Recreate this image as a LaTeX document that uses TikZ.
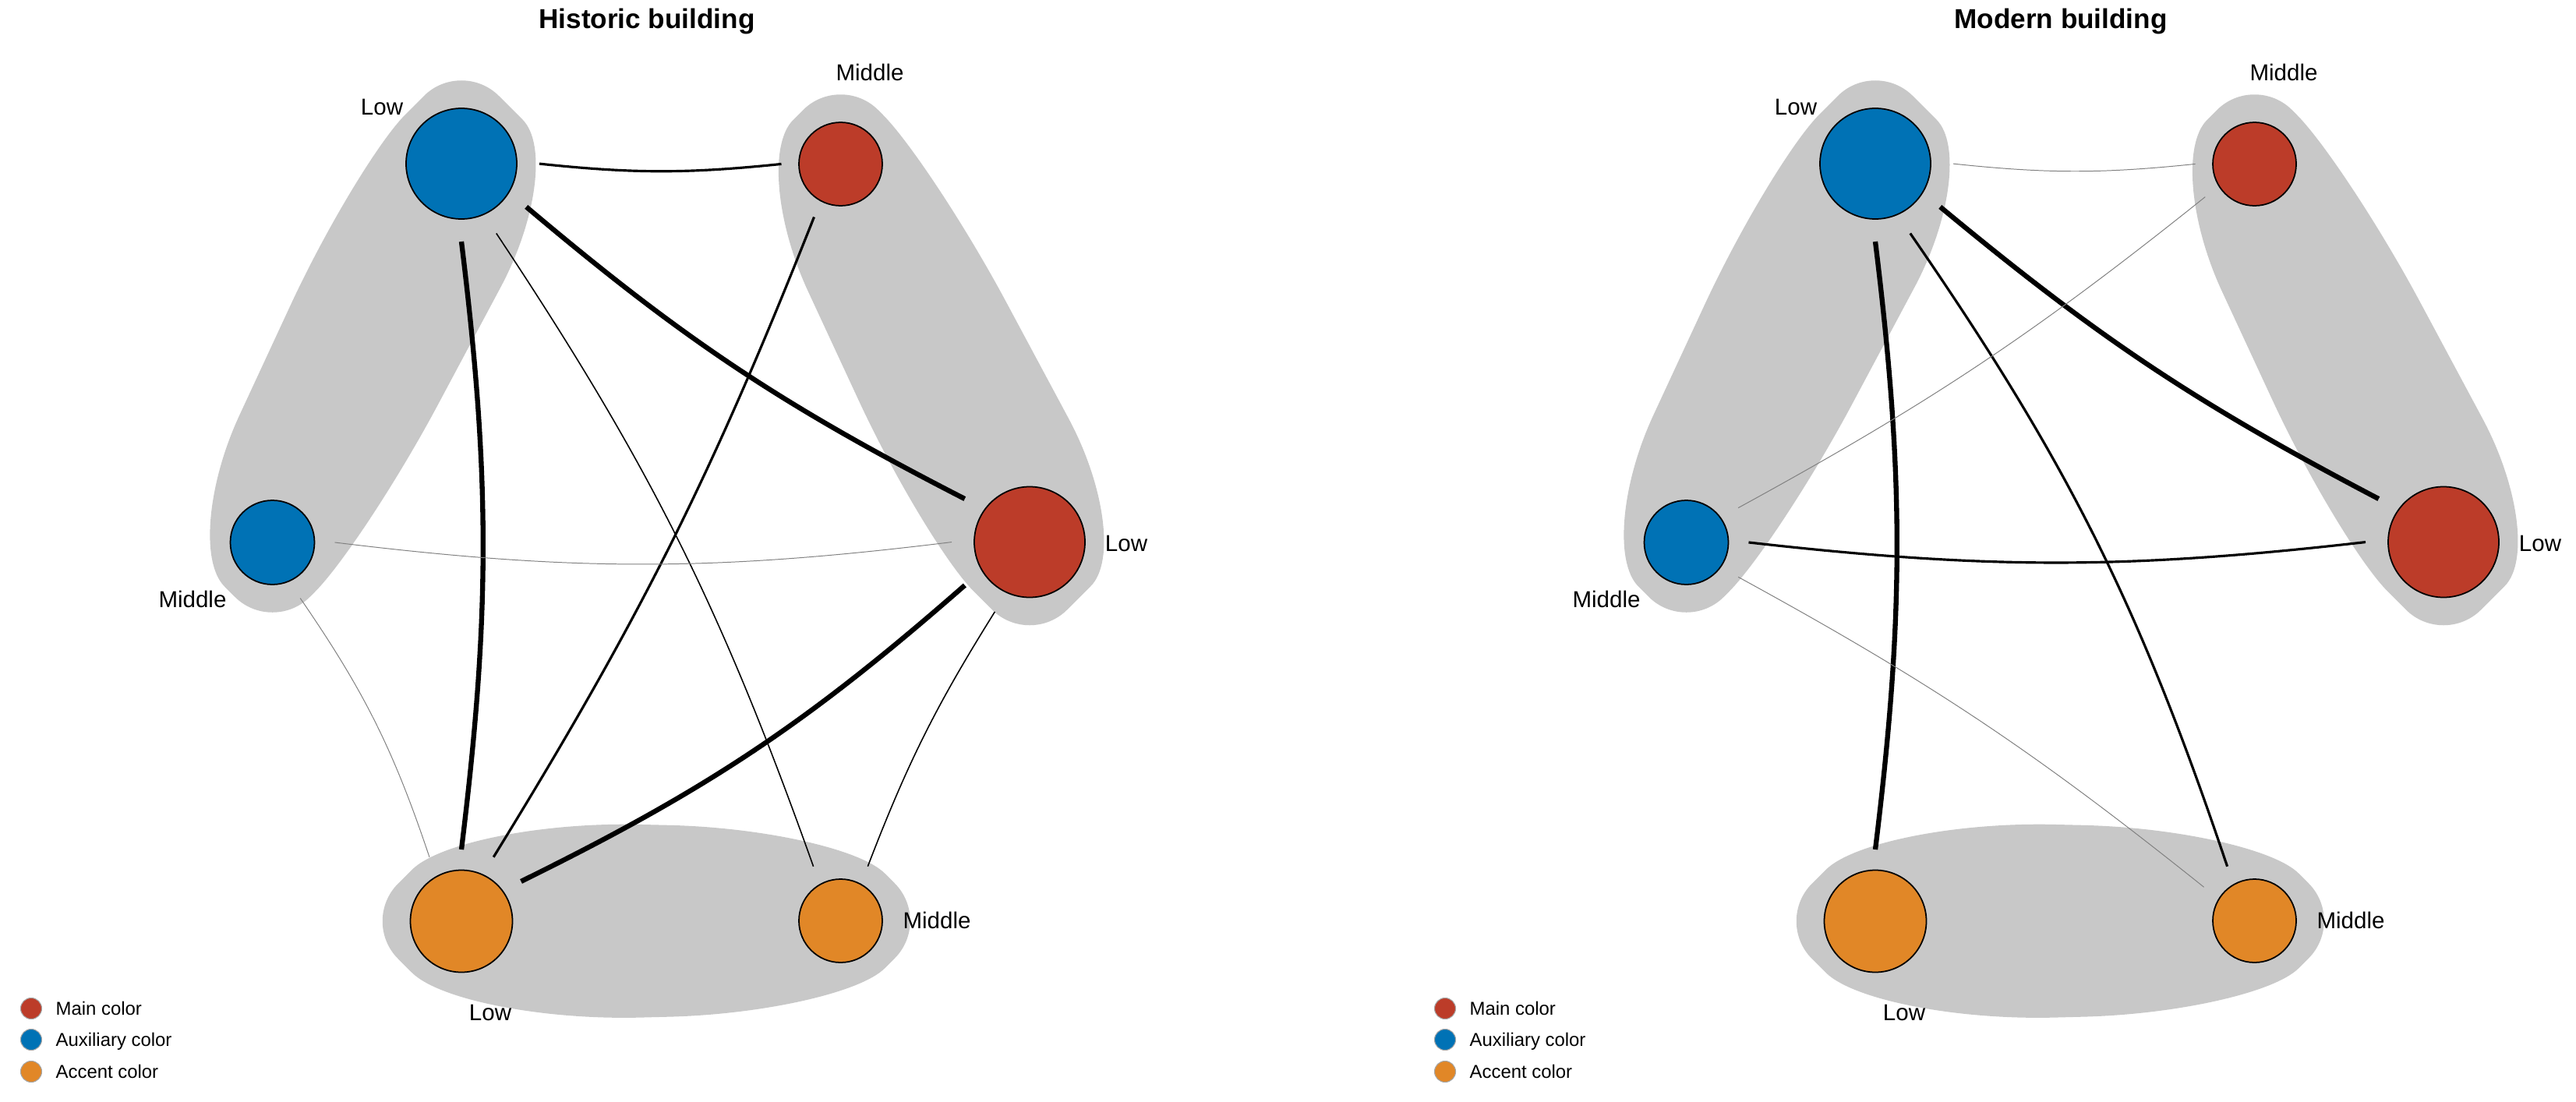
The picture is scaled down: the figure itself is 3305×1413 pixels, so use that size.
\documentclass[tikz,border=0pt]{standalone}
\usepackage{fontspec}
\setmainfont{Liberation Sans}
\usetikzlibrary{calc}
\definecolor{mainc}{HTML}{BC3C29}
\definecolor{auxc}{HTML}{0072B5}
\definecolor{accc}{HTML}{E18727}
\definecolor{hullc}{HTML}{C8C8C8}

% one rounded hull corner: corner, previous, next, cut/control toward previous, cut/control toward next
\newcommand\hcc[7]{-- ($(#1)!#4!(#2)$) .. controls ($(#1)!#5!(#2)$) and ($(#1)!#7!(#3)$) .. ($(#1)!#6!(#3)$)}

\tikzset{
  vtx/.style={circle, draw=black, line width=0.5pt, inner sep=0pt},
  lbl/.style={font=\fontsize{8.4}{10}\selectfont, inner sep=0pt},
  ttl/.style={font=\bfseries\fontsize{10}{12}\selectfont, inner sep=0pt, anchor=base},
  legtxt/.style={font=\fontsize{6.8}{8}\selectfont, anchor=base west, inner sep=0pt},
  legdot/.style={circle, draw=black!35, line width=0.3pt, inner sep=0pt, minimum size=2.7mm},
  thickE/.style={line width=1.8pt, black},
  medE/.style={line width=0.9pt, black},
  thinE/.style={line width=0.45pt, black},
  faintE/.style={line width=0.28pt, black!50},
}

\newcommand\commonpanel[3]{%
\begin{scope}[shift={(#2,0)}]
  \node[ttl] (#1title) at (830,37) {#3};
  % hull corner points
  \coordinate (#1B1) at (592,75);     \coordinate (#1B2) at (727,210);
  \coordinate (#1B3) at (467.5,696);  \coordinate (#1B4) at (349.5,814);
  \coordinate (#1B5) at (231.5,696);  \coordinate (#1B6) at (457,210);
  \coordinate (#1R1) at (1078.5,93);  \coordinate (#1R2) at (1196,210.5);
  \coordinate (#1R3) at (1456,695.5); \coordinate (#1R4) at (1321,830.5);
  \coordinate (#1R5) at (1186,695.5); \coordinate (#1R6) at (961,210.5);
  \coordinate (#1O1) at (462.5,1182); \coordinate (#1O2) at (592,1052.5);
  \coordinate (#1O3) at (1078.5,1064); \coordinate (#1O4) at (1196,1181.5);
  \coordinate (#1O5) at (1078.5,1299); \coordinate (#1O6) at (592,1311.5);
  % hulls
  \fill[hullc] ($(#1B1)!6.8mm!(#1B6)$) .. controls ($(#1B1)!3.06mm!(#1B6)$) and ($(#1B1)!3.06mm!(#1B2)$) .. ($(#1B1)!6.8mm!(#1B2)$)
    \hcc{#1B2}{#1B1}{#1B3}{8mm}{3.6mm}{18mm}{8.1mm}
    \hcc{#1B3}{#1B2}{#1B4}{20mm}{9mm}{9mm}{4.05mm}
    \hcc{#1B4}{#1B3}{#1B5}{6.8mm}{3.06mm}{6.8mm}{3.06mm}
    \hcc{#1B5}{#1B4}{#1B6}{8mm}{3.6mm}{18mm}{8.1mm}
    \hcc{#1B6}{#1B5}{#1B1}{20mm}{9mm}{9mm}{4.05mm} -- cycle;
  \fill[hullc] ($(#1R1)!6.8mm!(#1R6)$) .. controls ($(#1R1)!3.06mm!(#1R6)$) and ($(#1R1)!3.06mm!(#1R2)$) .. ($(#1R1)!6.8mm!(#1R2)$)
    \hcc{#1R2}{#1R1}{#1R3}{9mm}{4.05mm}{20mm}{9mm}
    \hcc{#1R3}{#1R2}{#1R4}{18mm}{8.1mm}{8mm}{3.6mm}
    \hcc{#1R4}{#1R3}{#1R5}{6.8mm}{3.06mm}{6.8mm}{3.06mm}
    \hcc{#1R5}{#1R4}{#1R6}{9mm}{4.05mm}{20mm}{9mm}
    \hcc{#1R6}{#1R5}{#1R1}{18mm}{8.1mm}{8mm}{3.6mm} -- cycle;
  \fill[hullc] ($(#1O1)!6.8mm!(#1O6)$) .. controls ($(#1O1)!3.06mm!(#1O6)$) and ($(#1O1)!3.06mm!(#1O2)$) .. ($(#1O1)!6.8mm!(#1O2)$)
    \hcc{#1O2}{#1O1}{#1O3}{9mm}{4.05mm}{23mm}{10.35mm}
    \hcc{#1O3}{#1O2}{#1O4}{22mm}{9.9mm}{8mm}{3.6mm}
    \hcc{#1O4}{#1O3}{#1O5}{6.8mm}{3.06mm}{6.8mm}{3.06mm}
    \hcc{#1O5}{#1O4}{#1O6}{8mm}{3.6mm}{22mm}{9.9mm}
    \hcc{#1O6}{#1O5}{#1O1}{23mm}{10.35mm}{9mm}{4.05mm} -- cycle;
  % vertices
  \node[vtx, fill=auxc,  minimum size=14.2mm] (#1BL) at (592,210) {};
  \node[vtx, fill=mainc, minimum size=10.7mm] (#1RM) at (1078.5,210.5) {};
  \node[vtx, fill=auxc,  minimum size=10.8mm] (#1BM) at (349.5,696) {};
  \node[vtx, fill=mainc, minimum size=14.2mm] (#1RL) at (1321,695.5) {};
  \node[vtx, fill=accc,  minimum size=13.1mm] (#1OL) at (592,1182) {};
  \node[vtx, fill=accc,  minimum size=10.7mm] (#1OM) at (1078.5,1181.5) {};
  % vertex labels
  \node[lbl] (#1lBL) at (490,137) {Low};
  \node[lbl] (#1lRM) at (1116,93) {Middle};
  \node[lbl] (#1lBM) at (247,769) {Middle};
  \node[lbl] (#1lRL) at (1445,697) {Low};
  \node[lbl] (#1lOL) at (629,1299) {Low};
  \node[lbl] (#1lOM) at (1202,1181) {Middle};
  % legend
  \node[legdot, fill=mainc] (#1d1) at (40,1294) {};
  \node[legdot, fill=auxc]  (#1d2) at (40,1334) {};
  \node[legdot, fill=accc]  (#1d3) at (40,1375) {};
  \node[legtxt] (#1t1) at (71,1302) {Main color};
  \node[legtxt] (#1t2) at (71,1342) {Auxiliary color};
  \node[legtxt] (#1t3) at (71,1383) {Accent color};
\end{scope}}

\begin{document}
\begin{tikzpicture}[x=0.1mm, y=-0.1mm]
  \useasboundingbox (0,0) rectangle (3305,1413);
  \commonpanel{h}{0}{Historic building}
  \commonpanel{m}{1814}{Modern building}

  % Historic building connectors
  \draw[medE]   ($(hBL)!10mm!(hRM)$) to[bend right=6]   ($(hRM)!7.6mm!(hBL)$);
  \draw[thickE] ($(hBL)!10mm!(hRL)$) to[bend right=6.5] ($(hRL)!10mm!(hBL)$);
  \draw[thickE] ($(hBL)!10mm!(hOL)$) to[bend left=7]    ($(hOL)!9.2mm!(hBL)$);
  \draw[thinE]  ($(hBL)!10mm!(hOM)$) to[bend left=7]    ($(hOM)!7.8mm!(hBL)$);
  \draw[medE]   ($(hRM)!7.6mm!(hOL)$) to[bend left=5]   ($(hOL)!9.2mm!(hRM)$);
  \draw[faintE] ($(hBM)!8mm!(hRL)$) to[bend right=7]    ($(hRL)!10mm!(hBM)$);
  \draw[faintE] ($(hBM)!8mm!(hOL)$) to[bend left=8]     ($(hOL)!9.2mm!(hBM)$);
  \draw[thickE] ($(hRL)!10mm!(hOL)$) to[bend left=7.5]  ($(hOL)!9.2mm!(hRL)$);
  \draw[thinE]  ($(hRL)!10mm!(hOM)$) to[bend right=5.5] ($(hOM)!7.8mm!(hRL)$);

  % Modern building connectors
  \draw[faintE] ($(mBL)!10mm!(mRM)$) to[bend right=6]   ($(mRM)!7.6mm!(mBL)$);
  \draw[thickE] ($(mBL)!10mm!(mRL)$) to[bend right=6]   ($(mRL)!10mm!(mBL)$);
  \draw[thickE] ($(mBL)!10mm!(mOL)$) to[bend left=7]    ($(mOL)!9.2mm!(mBL)$);
  \draw[medE]   ($(mBL)!10mm!(mOM)$) to[bend left=8]    ($(mOM)!7.8mm!(mBL)$);
  \draw[faintE] ($(mBM)!8mm!(mRM)$) to[bend right=5]    ($(mRM)!7.6mm!(mBM)$);
  \draw[medE]   ($(mBM)!8mm!(mRL)$) to[bend right=6.5]  ($(mRL)!10mm!(mBM)$);
  \draw[faintE] ($(mBM)!8mm!(mOM)$) to[bend left=5]     ($(mOM)!7.8mm!(mBM)$);
\end{tikzpicture}
\end{document}
